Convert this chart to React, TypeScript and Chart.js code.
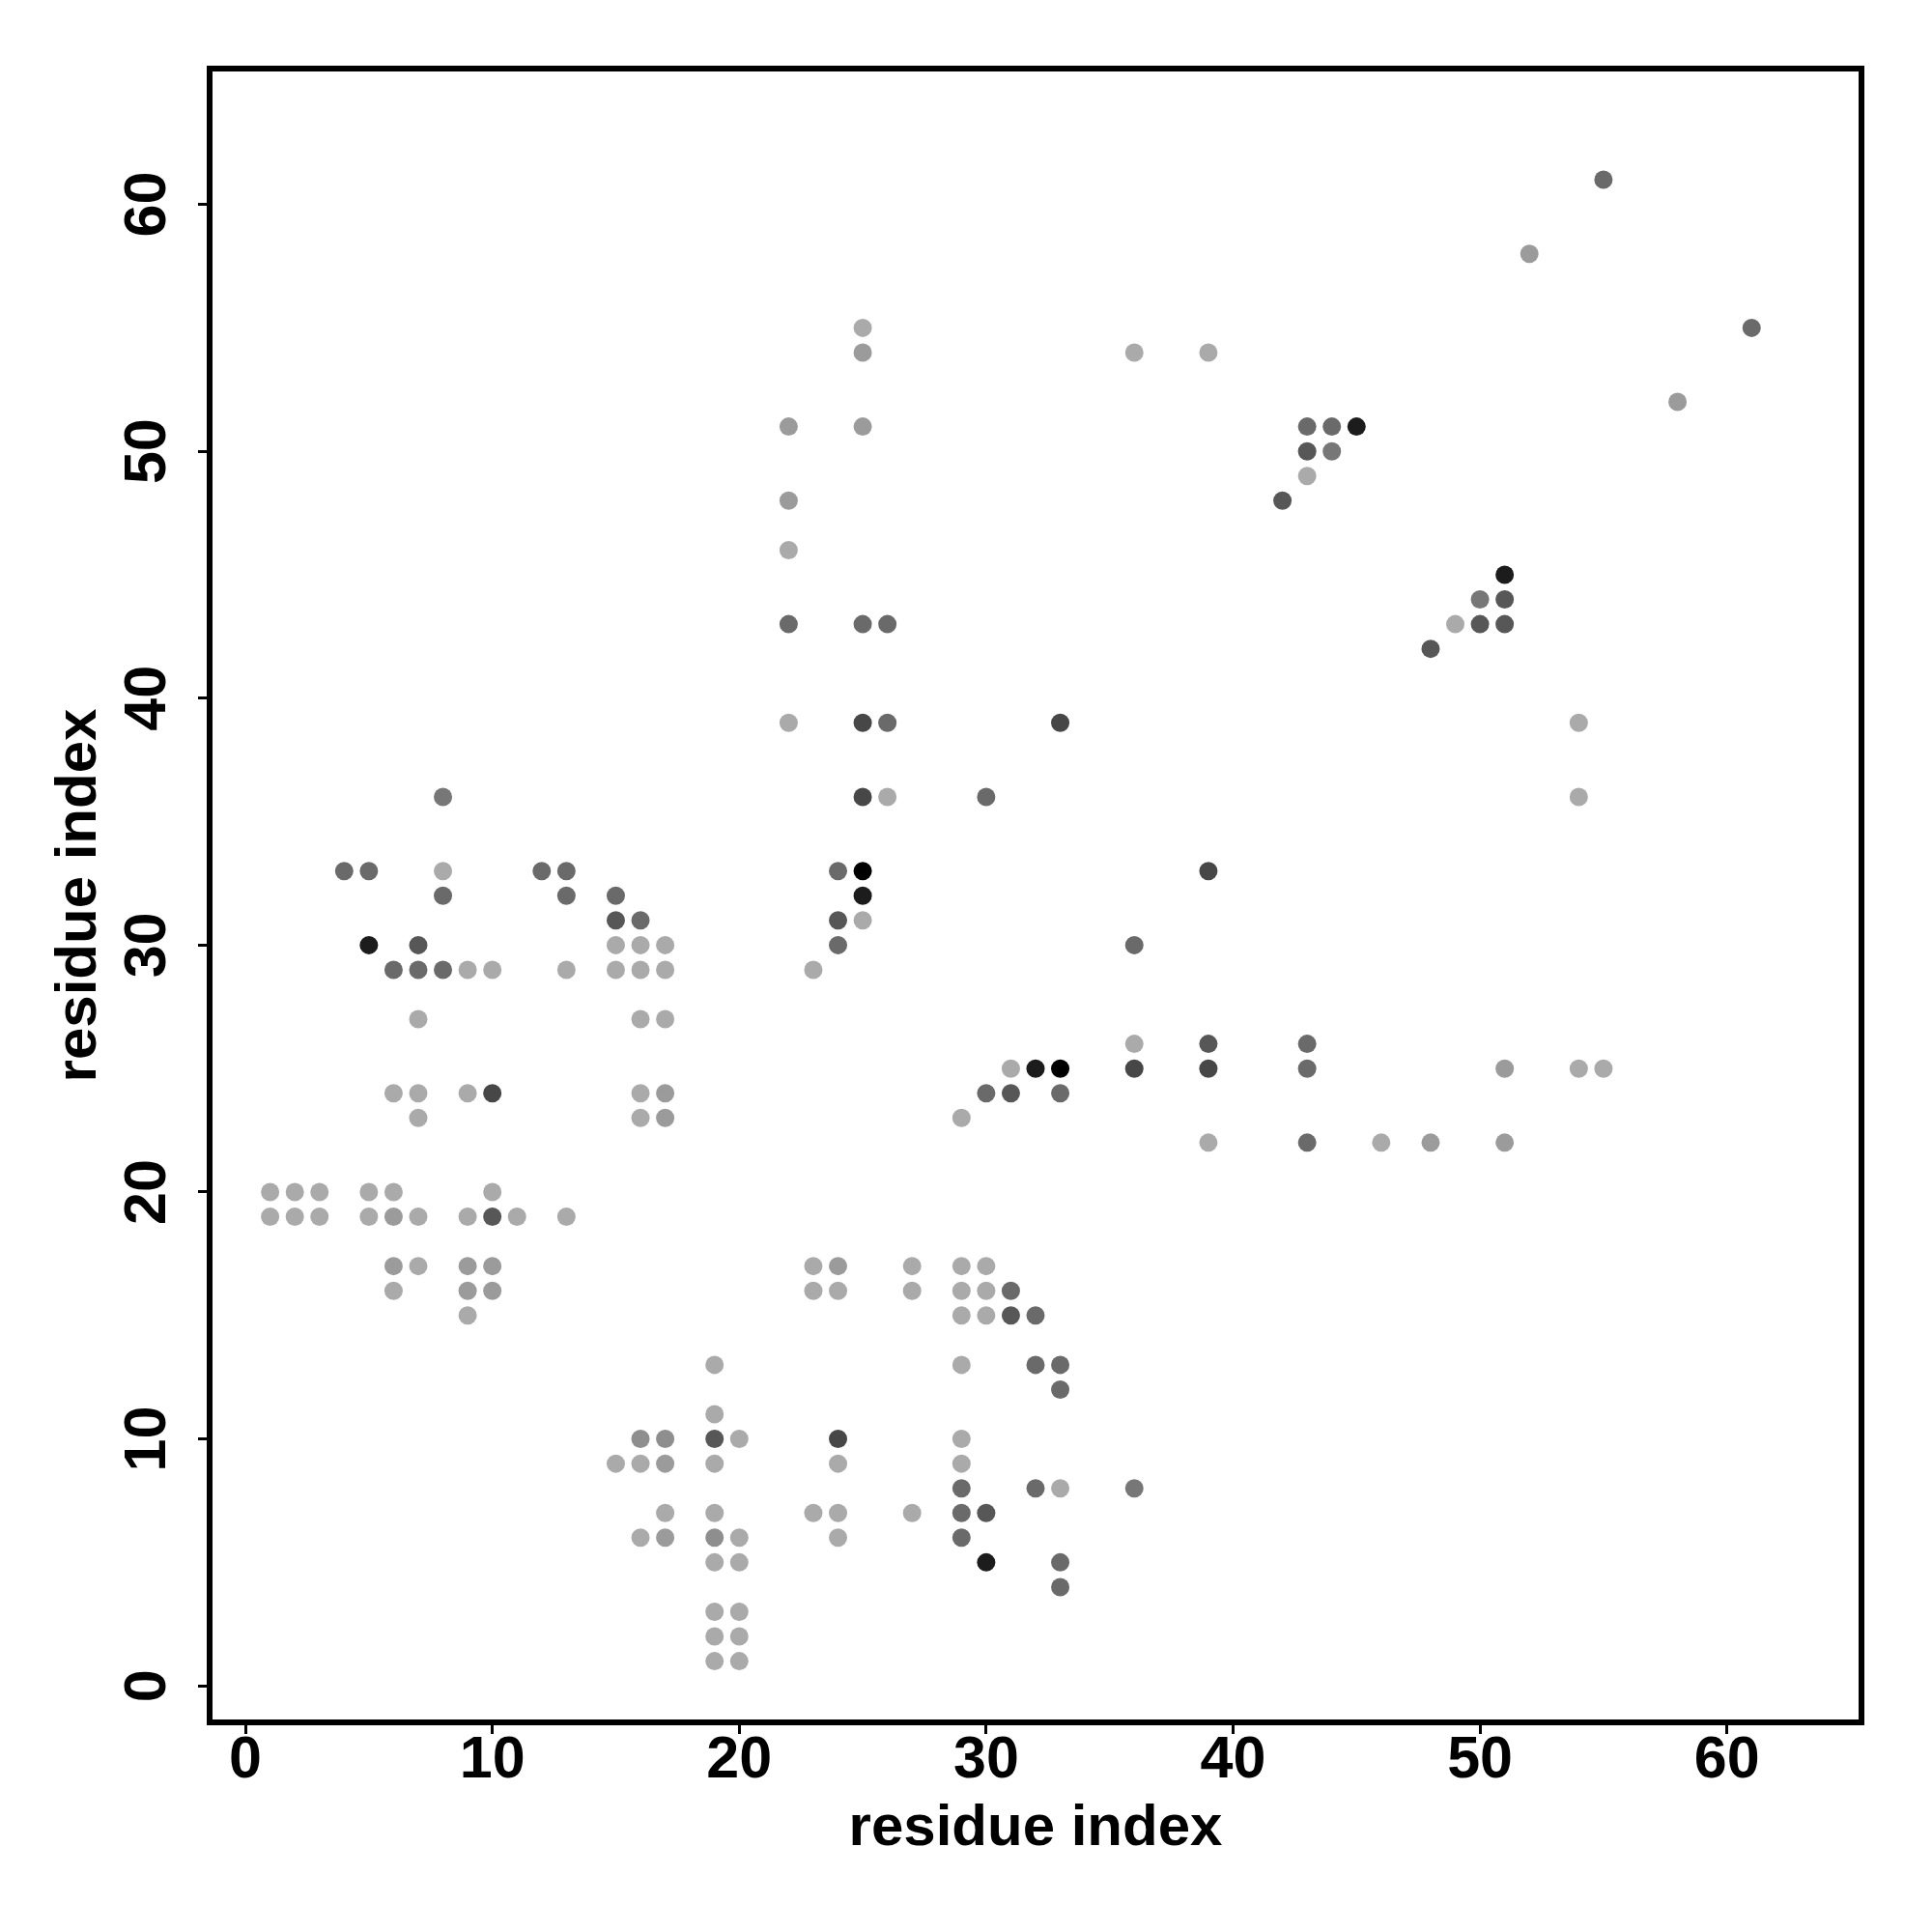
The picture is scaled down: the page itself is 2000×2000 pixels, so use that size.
import React, { useEffect, useRef } from "react";
import { Chart, registerables } from "chart.js";

Chart.register(...registerables);

// Axis ticks
const xTicks = [0, 10, 20, 30, 40, 50, 60];
const yTicks = [0, 10, 20, 30, 40, 50, 60];
const xTitle = "residue index";
const yTitle = "residue index";

// Contacts grouped by grey shade: [x, y]
const lightPts: [number, number][] = [
  [19, 1], [20, 1], [19, 2], [20, 2], [19, 3], [20, 3], [19, 5], [20, 5],
  [16, 6], [20, 6], [24, 6], [17, 7], [19, 7], [23, 7], [24, 7], [27, 7],
  [33, 8], [15, 9], [16, 9], [19, 9], [24, 9], [29, 9], [20, 10], [29, 10],
  [19, 11], [19, 13], [29, 13], [9, 15], [29, 15], [30, 15],
  [6, 16], [23, 16], [24, 16], [27, 16], [29, 16], [30, 16],
  [7, 17], [23, 17], [27, 17], [29, 17], [30, 17],
  [1, 19], [2, 19], [3, 19], [5, 19], [7, 19], [9, 19], [11, 19], [13, 19],
  [1, 20], [2, 20], [3, 20], [5, 20], [6, 20], [10, 20],
  [39, 22], [46, 22], [7, 23], [16, 23], [29, 23],
  [6, 24], [7, 24], [9, 24], [16, 24], [31, 25], [54, 25], [55, 25], [36, 26],
  [7, 27], [16, 27], [17, 27],
  [9, 29], [10, 29], [13, 29], [15, 29], [16, 29], [17, 29], [23, 29],
  [15, 30], [16, 30], [17, 30], [25, 31], [8, 33], [26, 36], [54, 36],
  [22, 39], [54, 39], [49, 43], [22, 46], [43, 49], [36, 54], [39, 54], [25, 55],
];
const midLightPts: [number, number][] = [
  [6, 19], [6, 17], [9, 17], [10, 17], [9, 16], [10, 16], [17, 9], [17, 6],
  [24, 17], [17, 24], [17, 23], [22, 51], [25, 51], [22, 48], [25, 54],
  [51, 25], [48, 22], [51, 22], [58, 52], [52, 58],
];
const midPts: [number, number][] = [[16, 10], [17, 10], [19, 6]];
const medLightPts: [number, number][] = [[8, 36], [44, 50], [50, 44], [36, 8]];
const mediumPts: [number, number][] = [
  [4, 33], [5, 33], [12, 33], [13, 33], [8, 32], [13, 32], [15, 32], [16, 31],
  [6, 29], [7, 29], [8, 29], [24, 33], [26, 39], [30, 36], [24, 30], [36, 30],
  [30, 24], [33, 24], [31, 16], [32, 15], [32, 13], [33, 13], [33, 12],
  [29, 8], [32, 8], [29, 7], [29, 6], [33, 5], [33, 4], [43, 26], [43, 25],
  [43, 22], [22, 43], [25, 43], [26, 43], [55, 61], [61, 55], [43, 51], [44, 51],
];
const darkPts: [number, number][] = [
  [15, 31], [7, 30], [10, 19], [19, 10], [31, 15], [30, 7], [24, 31], [31, 24],
  [39, 26], [43, 50], [42, 48], [50, 43], [51, 43], [51, 44], [48, 42],
];
const darkerPts: [number, number][] = [
  [10, 24], [24, 10], [25, 39], [33, 39], [25, 36], [39, 33], [36, 25], [39, 25],
];
const veryDarkPts: [number, number][] = [
  [5, 30], [25, 32], [32, 25], [30, 5], [45, 51], [51, 45],
];
const blackPts: [number, number][] = [[25, 33], [33, 25]];

const groups: { pts: [number, number][]; color: string }[] = [
  { pts: lightPts, color: "#aaaaaa" },
  { pts: midLightPts, color: "#9b9b9b" },
  { pts: midPts, color: "#8e8e8e" },
  { pts: medLightPts, color: "#777777" },
  { pts: mediumPts, color: "#6a6a6a" },
  { pts: darkPts, color: "#575757" },
  { pts: darkerPts, color: "#474747" },
  { pts: veryDarkPts, color: "#1c1c1c" },
  { pts: blackPts, color: "#000000" },
];

const FONT = '"Liberation Sans", Arial, Helvetica, sans-serif';

const frame = {
  id: "rframe",
  beforeDraw(chart: any) {
    const { ctx } = chart;
    ctx.save();
    ctx.fillStyle = "#ffffff";
    ctx.fillRect(0, 0, chart.width, chart.height);
    ctx.restore();
  },
  afterDraw(chart: any) {
    const { ctx, chartArea: a, scales } = chart;
    ctx.save();
    ctx.strokeStyle = "#000";
    ctx.lineWidth = 6;
    ctx.strokeRect(a.left, a.top, a.right - a.left, a.bottom - a.top);
    ctx.fillStyle = "#000";
    ctx.font = `bold 61px ${FONT}`;
    ctx.textAlign = "center";
    ctx.textBaseline = "alphabetic";
    for (const t of xTicks) {
      const px = scales.x.getPixelForValue(t);
      ctx.fillText(String(t), px, a.bottom + 57);
    }
    for (const t of yTicks) {
      const py = scales.y.getPixelForValue(t);
      ctx.save();
      ctx.translate(a.left - 46, py);
      ctx.rotate(-Math.PI / 2);
      ctx.fillText(String(t), 0, 0);
      ctx.restore();
    }
    ctx.font = `bold 60px ${FONT}`;
    ctx.fillText(xTitle, (a.left + a.right) / 2, a.bottom + 127);
    ctx.save();
    ctx.translate(a.left - 118, (a.top + a.bottom) / 2);
    ctx.rotate(-Math.PI / 2);
    ctx.fillText(yTitle, 0, 0);
    ctx.restore();
    ctx.restore();
  },
};

export default function App() {
  const ref = useRef<HTMLCanvasElement | null>(null);
  useEffect(() => {
    document.body.style.margin = "0";
    const canvas = ref.current!;
    const chart = new Chart(canvas, {
      type: "scatter",
      data: {
        datasets: groups.map((g) => ({
          data: g.pts.map(([x, y]) => ({ x, y })),
          backgroundColor: g.color,
          borderWidth: 0,
          pointRadius: 9.5,
          pointHoverRadius: 9.5,
          pointBorderWidth: 0,
        })),
      },
      options: {
        responsive: false,
        animation: false,
        devicePixelRatio: 1,
        layout: { padding: { top: 71, right: 73, left: 0, bottom: 0 } },
        plugins: { legend: { display: false }, tooltip: { enabled: false } },
        scales: {
          x: {
            type: "linear",
            min: -1.45,
            max: 65.45,
            afterBuildTicks: (s: any) => {
              s.ticks = xTicks.map((v) => ({ value: v }));
            },
            afterFit: (s: any) => {
              s.height = 217;
            },
            ticks: { display: false },
            border: { display: false },
            grid: {
              display: true,
              drawOnChartArea: false,
              drawTicks: true,
              tickLength: 12,
              tickWidth: 3,
              tickColor: "#000",
            },
          },
          y: {
            type: "linear",
            min: -1.48,
            max: 65.5,
            afterBuildTicks: (s: any) => {
              s.ticks = yTicks.map((v) => ({ value: v }));
            },
            afterFit: (s: any) => {
              s.width = 217;
            },
            ticks: { display: false },
            border: { display: false },
            grid: {
              display: true,
              drawOnChartArea: false,
              drawTicks: true,
              tickLength: 12,
              tickWidth: 3,
              tickColor: "#000",
            },
          },
        },
      },
      plugins: [frame],
    });
    return () => chart.destroy();
  }, []);
  return (
    <canvas
      ref={ref}
      width={2000}
      height={2000}
      style={{ width: 2000, height: 2000, display: "block" }}
    />
  );
}
